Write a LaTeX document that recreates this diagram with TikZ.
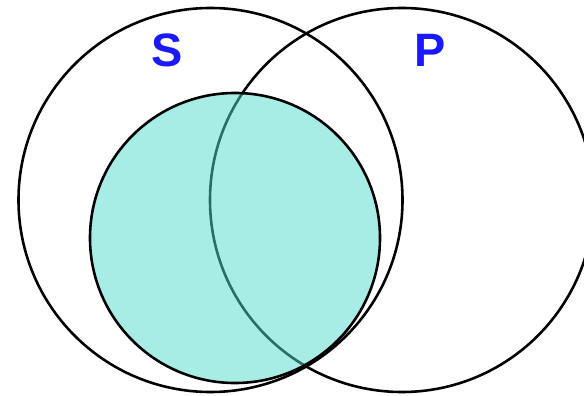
\documentclass[tikz,border=0pt]{standalone}
\usepackage{fontspec}
\setsansfont{Liberation Sans}
\usepackage{tikz}
\usetikzlibrary{positioning, calc, shapes.geometric}
\definecolor{setblue}{RGB}{25, 25, 250}
\definecolor{subteal}{RGB}{80, 220, 205}
\tikzset{
    set/.style={circle, draw=black, line width=2.2pt, inner sep=0pt, minimum size=11.52cm},
    subset/.style={circle, draw=black, line width=2.2pt, inner sep=0pt, minimum size=8.7cm, fill=subteal, fill opacity=0.5, draw opacity=1},
    setlabel/.style={font=\sffamily\bfseries\fontsize{40}{48}\selectfont, text=setblue}
}

\begin{document}
\begin{tikzpicture}[x=0.03cm, y=-0.03cm]
    \useasboundingbox (0,0) rectangle (584,396);

    % The two big sets
    \node[set] (S) at (210.5,200) {};
    \node[set] (P) at (402,200) {};

    % Shaded subset on top
    \node[subset] (M) at (235,238) {};

    % Labels
    \node[setlabel] (labS) at (167,50) {S};
    \node[setlabel] (labP) at (430,50) {P};
\end{tikzpicture}
\end{document}
